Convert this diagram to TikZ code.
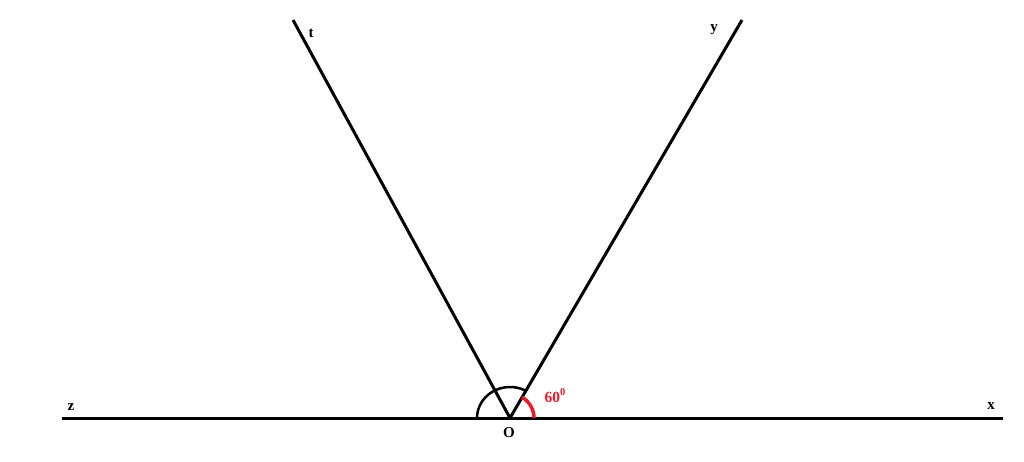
\documentclass[tikz,border=0pt]{standalone}
\usepackage{fontspec}
\setmainfont{Liberation Serif}
\usetikzlibrary{calc}
\definecolor{anglered}{RGB}{232,28,36}
\begin{document}
\begin{tikzpicture}[x=1pt,y=-1pt,
  ray/.style={line width=3pt},
  lbl/.style={font=\bfseries\fontsize{15}{17}\selectfont, inner sep=0pt},
  redlbl/.style={font=\bfseries\fontsize{15.5}{17}\selectfont, text=anglered, inner sep=0pt}]
\useasboundingbox (0,0) rectangle (1024,462);
\coordinate (O) at (510,418);
\coordinate (Z) at (62,418);
\coordinate (X) at (1003,418);
\coordinate (T) at (293,20);
\coordinate (Y) at (742,20);
\draw[ray] (Z) -- (X);
\draw[ray] (O) -- (T);
\draw[ray] (O) -- (Y);
% black arc from Oy to Oz
\draw[line width=2.5pt] ($(O)+(-60:33 and 31)$) arc[start angle=-60, end angle=-180, x radius=33, y radius=31];
% red arc from Ox to Oy
\draw[line width=3.5pt, anglered] ($(O)+(0:24)$) arc[start angle=0, end angle=-60, radius=24];
\node[lbl] (lt) at (311,33) {t};
\node[lbl] (ly) at (714,30) {y};
\node[lbl] (lz) at (71,407) {z};
\node[lbl] (lx) at (991,406) {x};
\node[lbl] (lo) at (509,433) {O};
\node[redlbl] (l60) at (555,396) {60\raisebox{0.45em}{\fontsize{10.5}{12}\selectfont 0}};
\end{tikzpicture}
\end{document}
